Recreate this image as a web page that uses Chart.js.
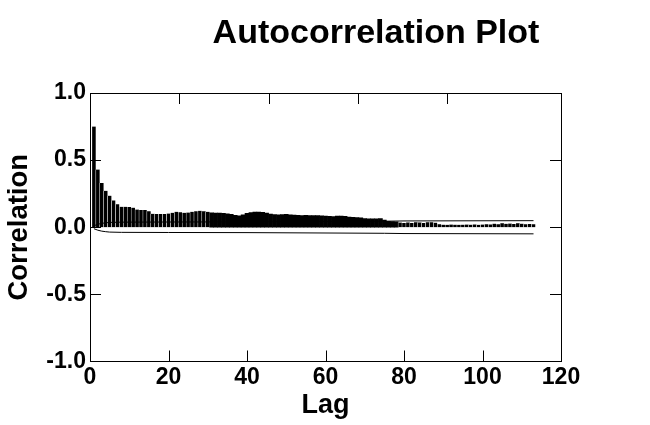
<!DOCTYPE html>
<html>
<head>
<meta charset="utf-8">
<title>Autocorrelation Plot</title>
<script src="https://cdn.jsdelivr.net/npm/chart.js@4.4.1/dist/chart.umd.min.js"></script>
<style>
  html, body { margin: 0; padding: 0; background: #fff; }
</style>
</head>
<body>
<canvas id="acfChart" width="650" height="425"></canvas>
<script>
// autocorrelation, lag 1 .. 113
const acf = [
    0.750, 0.430, 0.330, 0.272, 0.235, 0.200, 0.172, 0.152, 0.152, 0.150,
    0.146, 0.132, 0.128, 0.128, 0.120, 0.100, 0.098, 0.098, 0.098, 0.102,
    0.108, 0.115, 0.112, 0.108, 0.110, 0.115, 0.120, 0.122, 0.120, 0.115,
    0.108, 0.106, 0.105, 0.104, 0.100, 0.097, 0.088, 0.085, 0.092, 0.103,
    0.109, 0.113, 0.113, 0.111, 0.106, 0.099, 0.095, 0.093, 0.094, 0.096,
    0.092, 0.091, 0.088, 0.087, 0.089, 0.087, 0.086, 0.087, 0.085, 0.084,
    0.081, 0.080, 0.083, 0.084, 0.081, 0.075, 0.073, 0.072, 0.070, 0.065,
    0.063, 0.062, 0.063, 0.064, 0.053, 0.044, 0.042, 0.041, 0.035, 0.031,
    0.036, 0.032, 0.037, 0.036, 0.031, 0.037, 0.038, 0.034, 0.023, 0.019,
    0.018, 0.020, 0.019, 0.018, 0.019, 0.020, 0.019, 0.021, 0.018, 0.020,
    0.023, 0.021, 0.027, 0.023, 0.029, 0.026, 0.028, 0.025, 0.029, 0.027,
    0.023, 0.024, 0.022
];
const lags = acf.map((v, i) => i + 1);

// +/- confidence band, read at a few lags
const bandLags = [1, 2, 3, 4, 5, 8, 20, 40, 75, 80, 113];
const bandValues = [0.011, 0.022, 0.029, 0.033, 0.036, 0.038, 0.039, 0.040, 0.045, 0.047, 0.049];

const xTicks = [0, 20, 40, 60, 80, 100, 120];
const yTicks = [-1.0, -0.5, 0.0, 0.5, 1.0];

const FONT = '"Liberation Sans", Arial, sans-serif';
Chart.defaults.font.family = FONT;
Chart.defaults.color = '#000';

// tick marks drawn inward from the frame
const innerTicks = {
    id: 'innerTicks',
    afterDatasetsDraw(chart) {
        const { ctx, chartArea: a, scales } = chart;
        const len = 11;
        ctx.save();
        ctx.strokeStyle = '#000';
        ctx.lineWidth = 1;
        ctx.beginPath();
        const inner = (s) => s.ticks.filter(t => t.value > s.min && t.value < s.max);
        inner(scales.x).forEach(t => {
            const px = Math.round(scales.x.getPixelForValue(t.value)) + 0.5;
            ctx.moveTo(px, a.bottom); ctx.lineTo(px, a.bottom - len);
        });
        inner(scales.x2).forEach(t => {
            const px = Math.round(scales.x2.getPixelForValue(t.value)) + 0.5;
            ctx.moveTo(px, a.top); ctx.lineTo(px, a.top + len);
        });
        inner(scales.y).forEach(t => {
            const py = Math.round(scales.y.getPixelForValue(t.value)) + 0.5;
            ctx.moveTo(a.left, py); ctx.lineTo(a.left + len, py);
        });
        inner(scales.y2).forEach(t => {
            const py = Math.round(scales.y2.getPixelForValue(t.value)) + 0.5;
            ctx.moveTo(a.right, py); ctx.lineTo(a.right - len, py);
        });
        ctx.stroke();
        ctx.restore();
    }
};

// title sits off-centre in the original
const plotTitle = {
    id: 'plotTitle',
    afterDraw(chart) {
        const ctx = chart.ctx;
        ctx.save();
        ctx.font = 'bold 34px ' + FONT;
        ctx.fillStyle = '#000';
        ctx.textAlign = 'center';
        ctx.textBaseline = 'alphabetic';
        ctx.fillText('Autocorrelation Plot', 376, 43);
        ctx.restore();
    }
};

const gapBorder = { left: 0.5, right: 0.5, top: 0, bottom: 0 };

new Chart(document.getElementById('acfChart'), {
    type: 'bar',
    data: {
        datasets: [
            {
                type: 'line',
                data: bandLags.map((l, i) => ({ x: l, y: bandValues[i] })),
                borderColor: '#000',
                borderWidth: 1,
                pointRadius: 0,
                tension: 0,
                order: 0
            },
            {
                type: 'line',
                data: bandLags.map((l, i) => ({ x: l, y: -bandValues[i] })),
                borderColor: '#000',
                borderWidth: 1,
                pointRadius: 0,
                tension: 0,
                order: 0
            },
            {
                type: 'bar',
                data: lags.map((l, i) => ({ x: l, y: acf[i] })),
                backgroundColor: '#000',
                borderColor: '#fff',
                borderWidth: function(c) {
                    const lag = lags[c.dataIndex];
                    if (lag === undefined) return 0;
                    return (lag <= 30 || lag >= 79) ? gapBorder : 0;
                },
                barPercentage: 1,
                categoryPercentage: 1,
                order: 1
            }
        ]
    },
    options: {
        responsive: false,
        animation: false,
        devicePixelRatio: 1,
        layout: { padding: { top: 93, right: 89, left: 0, bottom: 0 } },
        plugins: {
            legend: { display: false },
            tooltip: { enabled: false },
            title: { display: false }
        },
        scales: {
            x: {
                type: 'linear',
                position: 'bottom',
                offset: false,
                min: 0,
                max: 120,
                afterBuildTicks: s => { s.ticks = xTicks.map(v => ({ value: v })); },
                grid: { display: false, drawTicks: false, offset: false },
                border: { display: true, color: '#000', width: 1 },
                ticks: {
                    color: '#000',
                    font: { size: 23, weight: 'bold' },
                    padding: 2,
                    maxRotation: 0,
                    autoSkip: false
                },
                title: {
                    display: true,
                    text: 'Lag',
                    color: '#000',
                    font: { size: 27, weight: 'bold' },
                    padding: { top: 0, bottom: 3 }
                },
                afterFit: s => { s.height = 63.5; }
            },
            x2: {
                type: 'linear',
                position: 'top',
                offset: false,
                min: 0,
                max: 105.5,
                ticks: { display: false, stepSize: 20 },
                grid: { display: false, drawTicks: false, offset: false },
                border: { display: true, color: '#000', width: 1 },
                afterFit: s => { s.height = 0; }
            },
            y: {
                type: 'linear',
                position: 'left',
                min: -1,
                max: 1,
                afterBuildTicks: s => { s.ticks = yTicks.map(v => ({ value: v })); },
                grid: { display: false, drawTicks: false },
                border: { display: true, color: '#000', width: 1 },
                ticks: {
                    color: '#000',
                    font: { size: 23, weight: 'bold' },
                    padding: 4,
                    callback: v => v.toFixed(1)
                },
                title: {
                    display: true,
                    text: 'Correlation',
                    color: '#000',
                    font: { size: 27.5, weight: 'bold' },
                    padding: { top: 3, bottom: 0 }
                },
                afterFit: s => { s.width = 90; }
            },
            y2: {
                type: 'linear',
                position: 'right',
                min: -1,
                max: 1,
                afterBuildTicks: s => { s.ticks = yTicks.map(v => ({ value: v })); },
                ticks: { display: false },
                grid: { display: false, drawTicks: false },
                border: { display: true, color: '#000', width: 1 },
                afterFit: s => { s.width = 0; }
            }
        }
    },
    plugins: [innerTicks, plotTitle]
});
</script>
</body>
</html>
